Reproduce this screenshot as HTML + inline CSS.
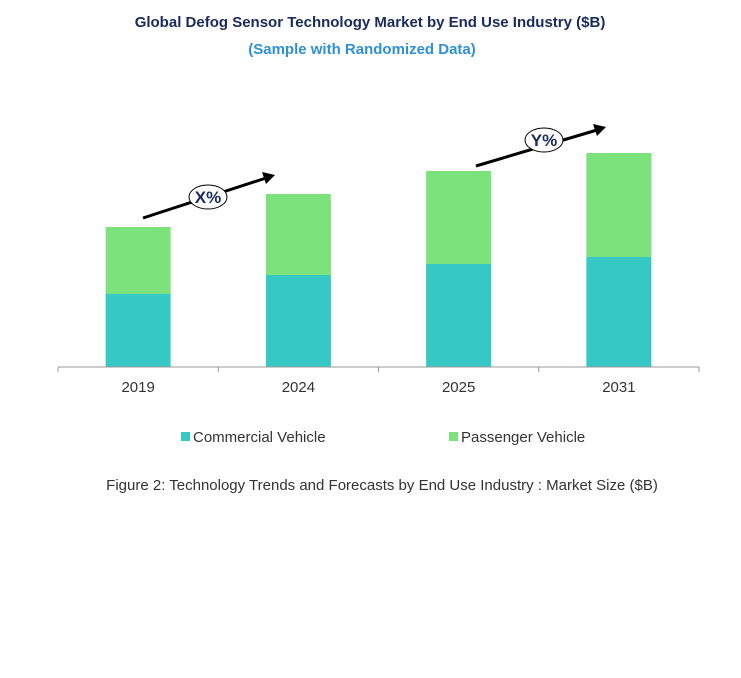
<!DOCTYPE html>
<html><head><meta charset="utf-8"><style>
body{margin:0;background:#fff;width:741px;height:673px;overflow:hidden;font-family:"Liberation Sans",Arial,sans-serif}
</style></head><body>
<svg width="741" height="673" xmlns="http://www.w3.org/2000/svg" font-family="Liberation Sans, Arial, sans-serif">
<text x="370" y="27" text-anchor="middle" font-size="15" font-weight="bold" fill="#1b2a5c">Global Defog Sensor Technology Market by End Use Industry ($B)</text>
<text x="362" y="54" text-anchor="middle" font-size="15" font-weight="bold" fill="#2f8fd8">(Sample with Randomized Data)</text>
<g id="bars"></g>
<line x1="58" y1="367" x2="699" y2="367" stroke="#999" stroke-width="1"/>
<g id="ticks"></g>
<g>
<line x1="143" y1="218" x2="266" y2="178" stroke="#000" stroke-width="3"/>
<polygon points="275,175 262,172 266,184" fill="#000"/>
<ellipse cx="208" cy="197" rx="19" ry="12" fill="#fff" stroke="#000" stroke-width="1"/>
<text x="208" y="203" text-anchor="middle" font-size="17" font-weight="bold" fill="#1b2a5c">X%</text>
</g>
<g>
<line x1="476" y1="166" x2="597" y2="130" stroke="#000" stroke-width="3"/>
<polygon points="606,127 593,124 597,136" fill="#000"/>
<ellipse cx="544" cy="140" rx="19" ry="12" fill="#fff" stroke="#000" stroke-width="1"/>
<text x="544" y="146" text-anchor="middle" font-size="17" font-weight="bold" fill="#1b2a5c">Y%</text>
</g>
<g>
<rect x="181" y="432" width="9" height="9" fill="#36c8c4"/>
<text x="193" y="442" font-size="15" fill="#333">Commercial Vehicle</text>
<rect x="449" y="432" width="9" height="9" fill="#7be27c"/>
<text x="461" y="442" font-size="15" fill="#333">Passenger Vehicle</text>
</g>
<text x="382" y="490" text-anchor="middle" font-size="15" fill="#333">Figure 2: Technology  Trends  and Forecasts by  End Use Industry   : Market Size ($B)</text>
</svg>
<script>
const categories = ["2019","2024","2025","2031"];
const commercial = [3.65, 4.6, 5.15, 5.5];
const passenger = [3.35, 4.05, 4.65, 5.2];
const NS = "http://www.w3.org/2000/svg";
const x0 = 58, x1 = 699, y0 = 367, pxPerUnit = 20, barW = 65;
const band = (x1 - x0) / categories.length;
function xCenter(i){ return x0 + band * (i + 0.5); }
function yScale(v){ return y0 - v * pxPerUnit; }
const bars = document.getElementById('bars');
const ticks = document.getElementById('ticks');
categories.forEach((c, i) => {
  const cx = xCenter(i);
  const t = document.createElementNS(NS, 'rect');
  
  
  t.setAttribute('x', cx - barW/2); t.setAttribute('width', barW);
  t.setAttribute('y', yScale(commercial[i])); t.setAttribute('height', y0 - yScale(commercial[i]));
  t.setAttribute('fill', '#36c8c4');
  bars.appendChild(t);
  const g = document.createElementNS(NS, 'rect');
  
  
  const top = yScale(commercial[i] + passenger[i]);
  g.setAttribute('x', cx - barW/2); g.setAttribute('width', barW);
  g.setAttribute('y', top); g.setAttribute('height', yScale(commercial[i]) - top);
  g.setAttribute('fill', '#7be27c');
  bars.appendChild(g);
  const lb = document.createElementNS(NS, 'text');
  
  
  lb.setAttribute('x', cx); lb.setAttribute('y', 392);
  lb.setAttribute('text-anchor', 'middle'); lb.setAttribute('font-size', '15'); lb.setAttribute('fill', '#333');
  lb.textContent = c;
  ticks.appendChild(lb);
});
for (let i = 0; i <= categories.length; i++) {
  const tk = document.createElementNS(NS, 'line');
  
  
  const x = x0 + band * i;
  tk.setAttribute('x1', x); tk.setAttribute('x2', x);
  tk.setAttribute('y1', y0); tk.setAttribute('y2', y0 + 5);
  tk.setAttribute('stroke', '#999');
  ticks.appendChild(tk);
}
</script>
</body></html>
